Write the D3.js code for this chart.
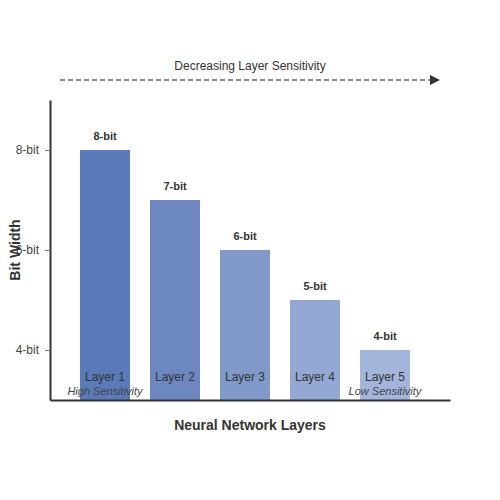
<!DOCTYPE html>
<html><head><meta charset="utf-8">
<script src="https://cdn.jsdelivr.net/npm/d3@7"></script>
<style>body{margin:0;background:#fff;font-family:"Liberation Sans",Arial,sans-serif}</style>
</head><body><svg id="c" width="500" height="500"></svg>
<script>
const layers = ["Layer 1","Layer 2","Layer 3","Layer 4","Layer 5"];
const bits = [8,7,6,5,4];
const barColors = ["#5b7ab9","#6d88c1","#8199c9","#93a8d3","#a4b5dc"];
const yTicks = [4,6,8];
const yTickLabels = ["4-bit","6-bit","8-bit"];

const svg = d3.select("#c");
const x = d3.scaleBand().domain(layers).range([70,420]).paddingInner(2/7).paddingOuter(1/7);
const y = d3.scaleLinear().domain([3,9]).range([400,100]);

// bars
svg.selectAll("rect.bar").data(layers).enter().append("rect")
  .attr("x", d=>x(d)).attr("width", x.bandwidth())
  .attr("y", (d,i)=>y(bits[i])).attr("height",(d,i)=>y(3)-y(bits[i]))
  .attr("fill",(d,i)=>barColors[i]);

// value labels
svg.selectAll("text.val").data(layers).enter().append("text")
  .attr("x", d=>x(d)+x.bandwidth()/2).attr("y",(d,i)=>y(bits[i])-10)
  .attr("text-anchor","middle").attr("font-size",11).attr("font-weight","bold").attr("fill","#333")
  .text((d,i)=>bits[i]+"-bit");

// layer labels
svg.selectAll("text.lay").data(layers).enter().append("text")
  .attr("x", d=>x(d)+x.bandwidth()/2).attr("y",381)
  .attr("text-anchor","middle").attr("font-size",12).attr("fill","#333")
  .text(d=>d);

// sensitivity labels
svg.append("text").attr("x",x(layers[0])+x.bandwidth()/2).attr("y",395)
  .attr("text-anchor","middle").attr("font-size",11).attr("font-style","italic").attr("fill","#444")
  .text("High Sensitivity");
svg.append("text").attr("x",x(layers[4])+x.bandwidth()/2).attr("y",395)
  .attr("text-anchor","middle").attr("font-size",11).attr("font-style","italic").attr("fill","#444")
  .text("Low Sensitivity");

// y axis
const yAxis = d3.axisLeft(y).tickValues(yTicks).tickFormat((d,i)=>yTickLabels[i]).tickSize(5).tickPadding(6).tickSizeOuter(0);
const ga = svg.append("g").attr("transform","translate(50,0)").call(yAxis);
ga.select(".domain").attr("stroke","#333").attr("stroke-width",2);
ga.selectAll(".tick line").attr("stroke","#777");
ga.selectAll(".tick text").attr("font-size",12).attr("fill","#444").attr("font-family","Liberation Sans, Arial, sans-serif");

// x axis
const xAxis = d3.axisBottom(d3.scaleLinear().domain([0,1]).range([50,450])).tickValues([]).tickSizeOuter(0);
const gx = svg.append("g").attr("transform","translate(0,400)").call(xAxis);
gx.select(".domain").attr("stroke","#333").attr("stroke-width",2);

// titles
svg.append("text").attr("x",250).attr("y",430).attr("text-anchor","middle")
  .attr("font-size",14).attr("font-weight","bold").attr("fill","#333").text("Neural Network Layers");
svg.append("text").attr("transform","translate(20,250) rotate(-90)").attr("text-anchor","middle")
  .attr("font-size",14).attr("font-weight","bold").attr("fill","#333").text("Bit Width");

// arrow
const defs = svg.append("defs");
defs.append("marker").attr("id","arr").attr("viewBox","0 0 10 10").attr("refX",0).attr("refY",5)
  .attr("markerWidth",10).attr("markerHeight",10).attr("markerUnits","userSpaceOnUse").attr("orient","auto")
  .append("path").attr("d","M0,0L10,5L0,10Z").attr("fill","#333");
svg.append("line").attr("x1",60).attr("x2",430).attr("y1",80).attr("y2",80)
  .attr("stroke","#888").attr("stroke-width",2).attr("stroke-dasharray","5,3").attr("marker-end","url(#arr)");
svg.append("text").attr("x",250).attr("y",70).attr("text-anchor","middle").attr("font-size",12).attr("fill","#333")
  .text("Decreasing Layer Sensitivity");
</script></body></html>
